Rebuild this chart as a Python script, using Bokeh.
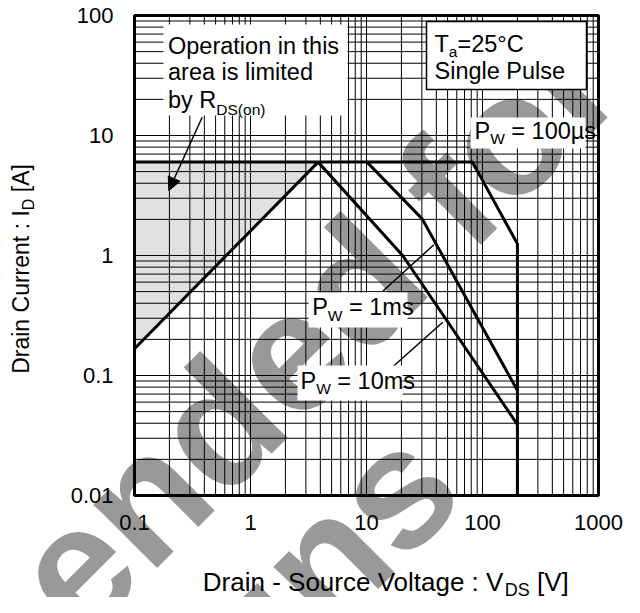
import math
from bokeh.plotting import figure
from bokeh.models import Label, BoxAnnotation, Arrow, NormalHead, Range1d
from bokeh.core.properties import value
from bokeh.embed import file_html
from bokeh.resources import INLINE

# ---------------- data ----------------
x_ticks = [0.1, 1, 10, 100, 1000]
x_tick_labels = ["0.1", "1", "10", "100", "1000"]
y_ticks = [0.01, 0.1, 1, 10, 100]
y_tick_labels = ["0.01", "0.1", "1", "10", "100"]

rds_v = [0.1, 3.83]            # R_DS(on) limit line
rds_i = [0.167, 6.0]
limit_v = [0.1, 82, 200, 200]  # I_D max / 100us / V_DSS boundary
limit_i = [6.0, 6.0, 1.25, 0.01]
pw1ms_v = [10.1, 30.2, 200]
pw1ms_i = [6.0, 2.02, 0.075]
pw10ms_v = [3.83, 20.5, 200]
pw10ms_i = [6.0, 1.0, 0.039]

FONT = "Liberation Sans"
MID = 0.35   # em distance from alphabetic baseline up to "middle"

# ---------------- layout helpers (reference px -> data) ----------------
# chart box spans 0.1..1000 (116 px/decade) and 100..0.01 (120 px/decade)
FL, FT, DX, DY = 139.0, 15.0, 116.0, 120.0
SHIFT_X = 5.0          # canvas x = reference x - SHIFT_X  (keeps "1000" inside 624 px)
W_CANVAS, H_CANVAS = 624, 597

def dx(px):
    return 10 ** (-1 + (px - FL) / DX)

def dy(py):
    return 10 ** (2 - (py - FT) / DY)

p = figure(width=W_CANVAS, height=H_CANVAS,
           x_range=Range1d(dx(SHIFT_X), dx(SHIFT_X + W_CANVAS)),
           y_range=Range1d(dy(H_CANVAS), dy(0)),
           x_axis_type="log", y_axis_type="log",
           x_axis_location=None, y_axis_location=None,
           min_border=0, output_backend="svg", toolbar_location=None,
           background_fill_color="white", border_fill_color="white")
p.outline_line_color = None
p.grid.visible = False

x_lo, x_hi = x_ticks[0], x_ticks[-1]
y_lo, y_hi = y_ticks[0], y_ticks[-1]

# ---------------- grid (major + minor decade lines) ----------------
x_minor = [m * t for t in x_ticks[:-1] for m in range(2, 10)]
y_minor = [m * t for t in y_ticks[:-1] for m in range(2, 10)]
xg = x_ticks + x_minor
yg = y_ticks + y_minor
p.segment(xg, [y_lo] * len(xg), xg, [y_hi] * len(xg), line_color="black", line_width=1)
p.segment([x_lo] * len(yg), yg, [x_hi] * len(yg), yg, line_color="black", line_width=1)

# ---------------- marks ----------------
p.patch([rds_v[0], rds_v[1], rds_v[0]], [rds_i[0], rds_i[1], rds_i[1]],
        fill_color="black", fill_alpha=0.12, line_color=None)
for xs, ys in ((rds_v, rds_i), (limit_v, limit_i), (pw1ms_v, pw1ms_i), (pw10ms_v, pw10ms_i)):
    p.line(xs, ys, line_color="black", line_width=3)

# chart frame
p.quad(left=[x_lo], right=[x_hi], bottom=[y_lo], top=[y_hi],
       fill_color=None, line_color="black", line_width=3)

# leader lines (label -> curve)
lead_x0 = [dx(387.3), dx(396.7)]
lead_y0 = [dy(290.7), dy(366.7)]
lead_x1 = [dx(438.3), dx(447.3)]
lead_y1 = [dy(244.3), dy(321.7)]
p.segment(lead_x0, lead_y0, lead_x1, lead_y1, line_color="black", line_width=1.5)

# tick labels
p.text(x=x_ticks, y=[dy(522)] * len(x_ticks), text=x_tick_labels,
       text_align="center", text_baseline="middle",
       text_font=value(FONT), text_font_size=value("22px"), text_color="black")
p.text(x=[dx(118)] * len(y_ticks), y=y_ticks, text=y_tick_labels,
       text_align="right", text_baseline="middle",
       text_font=value(FONT), text_font_size=value("22px"), text_color="black")

# ---------------- watermark ----------------
WM = 170
wm_up = MID * WM / math.sqrt(2)
for txt, (wx, wy) in (("Not Recommended for", (634.5, 95.5)), ("New Designs", (474, 498))):
    p.add_layout(Label(x=dx(wx - wm_up), y=dy(wy - wm_up), text=txt, angle=math.pi / 4,
                       text_align="right", text_baseline="middle",
                       text_font=FONT, text_font_style="bold", text_font_size=f"{WM}px",
                       text_color="black", text_alpha=0.4))

# ---------------- text boxes ----------------
def box(l, t, r, b, border=False):
    p.add_layout(BoxAnnotation(left=dx(l), right=dx(r), top=dy(t), bottom=dy(b),
                               fill_color="white", fill_alpha=1,
                               line_color="black" if border else None,
                               line_width=1.5, line_alpha=1 if border else 0))

box(168, 24, 352, 115)
box(431, 21, 591, 89, border=True)
box(475, 117, 590, 148)
box(313, 292, 412, 327)
box(302, 365, 407, 400)

W = {' ': 278, '!': 278, '(': 333, ')': 333, '-': 333, '.': 278, ':': 278, '=': 584,
     '[': 278, ']': 278, '°': 400, 'µ': 556}
W.update({c: 556 for c in "0123456789"})
W.update(dict(zip("ABCDEFGHIJKLMNOPQRSTUVWXYZ",
                  [667, 667, 722, 722, 667, 611, 778, 722, 278, 500, 667, 556, 833,
                   722, 778, 667, 778, 722, 667, 611, 722, 667, 944, 667, 667, 611])))
W.update(dict(zip("abcdefghijklmnopqrstuvwxyz",
                  [556, 556, 500, 556, 556, 278, 556, 556, 222, 222, 500, 222, 833,
                   556, 556, 556, 556, 333, 500, 278, 556, 500, 722, 500, 500, 500])))

def width(text, size):
    return sum(W.get(c, 556) for c in text) * size / 1000.0

def runs(x, y, parts, vertical=False):
    """x, y: start of the alphabetic baseline in reference px."""
    off = 0.0
    for text, size, drop in parts:
        stripped = text.lstrip(" ")
        off += width(text[:len(text) - len(stripped)], size)
        up = MID * size
        if vertical:
            xi, yi = x + drop - up, y - off
        else:
            xi, yi = x + off, y + drop - up
        p.add_layout(Label(x=dx(xi), y=dy(yi), text=stripped,
                           angle=math.pi / 2 if vertical else 0,
                           text_align="left", text_baseline="middle",
                           text_font=FONT, text_font_size=f"{size}px",
                           text_color="black"))
        off += width(stripped, size)

A, S = 23.5, 15.5
runs(172.5, 53.3, [("Operation in this", A, 0)])
runs(172.5, 80.0, [("area is limited", A, 0)])
runs(172.5, 107.3, [("by R", A, 0), ("DS(on)", S, 7)])
runs(439, 51.7, [("T", A, 0), ("a", S, 5), ("=25°C", A, 0)])
runs(439, 78.3, [("Single Pulse", A, 0)])
runs(479, 138.3, [("P", A, 0), ("W", S, 5), (" = 100µs", A, 0)])
runs(316.7, 315.0, [("P", A, 0), ("W", S, 5), (" = 1ms", A, 0)])
runs(305.0, 388.3, [("P", A, 0), ("W", S, 5), (" = 10ms", A, 0)])

# axis titles
runs(207.3, 591.0, [("Drain - Source Voltage : V", 26, 0), ("DS", 18, 5), (" [V]", 26, 0)])
runs(33.3, 373.3, [("Drain Current : I", 23, 0), ("D", 16, 5), (" [A]", 23, 0)], vertical=True)

# R_DS(on) arrow
p.add_layout(Arrow(end=NormalHead(size=13, fill_color="black", line_color="black"),
                   x_start=dx(206.7), y_start=dy(116.7), x_end=dx(173.3), y_end=dy(190),
                   line_color="black", line_width=1.5))

open("out.html", "w").write(file_html(p, INLINE))
